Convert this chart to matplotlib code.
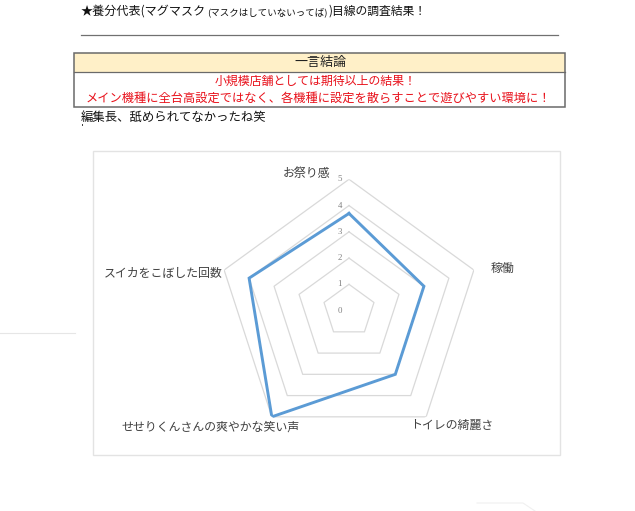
import numpy as np
import matplotlib
matplotlib.use("Agg")
import matplotlib.pyplot as plt
from matplotlib.patches import Rectangle

plt.rcParams['font.family'] = ['Noto Sans CJK JP', 'DejaVu Sans']

# data
categories = ['お祭り感', '稼働', 'トイレの綺麗さ', 'せせりくんさんの爽やかな笑い声', 'スイカをこぼした回数']
values = [3.7, 3.0, 3.0, 5.0, 4.0]
levels = [0, 1, 2, 3, 4, 5]

title_main = '★養分代表(マグマスク'
title_small = '(マスクはしていないってば)'
title_end = ')目線の調査結果！'
box_header = '一言結論'
box_lines = ['小規模店舗としては期待以上の結果！',
             'メイン機種に全台高設定ではなく、各機種に設定を散らすことで遊びやすい環境に！']
comment = '編集長、舐められてなかったね笑'

W, H = 635, 511
fig = plt.figure(figsize=(W / 100, H / 100), dpi=100)

# background axes in pixel coords for the page-like header
bg = fig.add_axes([0, 0, 1, 1])
bg.set_xlim(0, W)
bg.set_ylim(H, 0)
bg.axis('off')

t1 = bg.text(81, 11, title_main, fontsize=8.7, va='center', ha='left', color='#111111')
fig.canvas.draw()
x2 = t1.get_window_extent().x1
t2 = bg.text(x2 + 1, 12, title_small, fontsize=6.8, va='center', ha='left', color='#111111')
fig.canvas.draw()
x3 = t2.get_window_extent().x1
bg.text(x3 + 1, 11, title_end, fontsize=8.5, va='center', ha='left', color='#111111')

bg.plot([81, 558], [35, 35], color='#707070', lw=0.9)

# conclusion box
bg.add_patch(Rectangle((74, 53.5), 490.5, 18.5, facecolor='#FFF0C8', edgecolor='none'))
bg.add_patch(Rectangle((74, 53.5), 490.5, 54, facecolor='none', edgecolor='#6A6A6A', lw=1.1))
bg.plot([74, 564.5], [72, 72], color='#6A6A6A', lw=0.9)
bg.text(320, 62.5, box_header, fontsize=9.4, ha='center', va='center', color='#222222')
bg.text(316, 81, box_lines[0], fontsize=8.6, ha='center', va='center', color='#E8101A')
bg.text(318, 98.5, box_lines[1], fontsize=8.8, ha='center', va='center', color='#E8101A')
bg.text(81, 117, comment, fontsize=8.9, ha='left', va='center', color='#111111')
bg.add_patch(Rectangle((81.5, 124.5), 1.2, 2, facecolor='#444444', edgecolor='none'))

# faint leftover lines
bg.plot([0, 75], [333, 333], color='#E6E6E6', lw=0.8)
bg.plot([477, 523, 535], [503, 503, 511], color='#F0F0F0', lw=0.8)

# chart frame
bg.add_patch(Rectangle((92.5, 151.5), 467.5, 303.5, facecolor='white', edgecolor='#E3E3E3', lw=1.0))

# category label positions (pixels)
label_pos = [(306, 173), (502, 268), (452, 425), (211, 427), (163, 273)]
for name, (lx, ly) in zip(categories, label_pos):
    bg.text(lx, ly, name, fontsize=8.6, ha='center', va='center', color='#404040')

# radar axes
cx, cy, rpx = 349, 310.6, 131.3
ax = fig.add_axes([(cx - rpx) / W, (H - cy - rpx) / H, 2 * rpx / W, 2 * rpx / H],
                  projection='polar')
ax.set_theta_offset(np.pi / 2)
ax.set_theta_direction(-1)
ax.set_ylim(0, max(levels))
ax.patch.set_alpha(0)
ax.spines['polar'].set_visible(False)
ax.grid(False)
ax.set_xticks([])
ax.set_yticks([])

n = len(categories)
angles = np.linspace(0, 2 * np.pi, n, endpoint=False)
ang_closed = np.concatenate([angles, angles[:1]])

for lv in levels[1:]:
    ax.plot(ang_closed, [lv] * (n + 1), color='#D9D9D9', lw=0.9, zorder=1)

for lv in levels:
    ax.annotate(str(lv), xy=(0, lv), xytext=(-9.5, 0), textcoords='offset pixels',
                ha='center', va='center', fontsize=6.3, color='#7F7F7F',
                family='Liberation Serif')

vals_closed = values + values[:1]
ax.plot(ang_closed, vals_closed, color='#5B9BD5', lw=2.1, zorder=3, solid_joinstyle='miter')

fig.savefig('out.png', dpi=100)
